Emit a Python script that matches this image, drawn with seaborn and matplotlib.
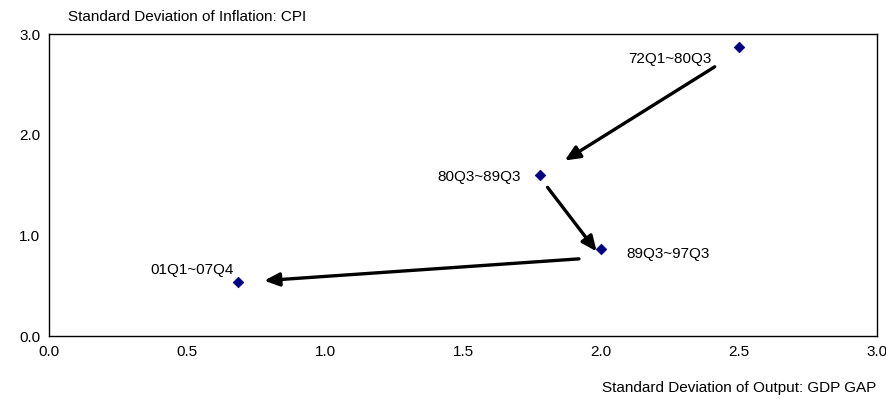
import matplotlib
matplotlib.use("Agg")
import matplotlib.pyplot as plt
import seaborn as sns
import pandas as pd

periods = ["72Q1~80Q3", "80Q3~89Q3", "89Q3~97Q3", "01Q1~07Q4"]
sd_output = [2.50, 1.78, 2.00, 0.685]
sd_inflation = [2.87, 1.60, 0.87, 0.54]
arrow_starts = [(2.42, 2.69), (1.80, 1.50), (1.93, 0.77)]
arrow_ends = [(1.86, 1.73), (1.99, 0.82), (0.77, 0.55)]
label_pos = [(2.40, 2.75, "right"), (1.71, 1.58, "right"), (2.09, 0.82, "left"), (0.67, 0.66, "right")]

sns.set_style("white")
plt.rcParams['font.family'] = ['Liberation Sans', 'DejaVu Sans']
plt.rcParams['text.color'] = 'black'
plt.rcParams['xtick.color'] = 'black'
plt.rcParams['ytick.color'] = 'black'

df = pd.DataFrame({"x": sd_output, "y": sd_inflation, "p": periods})
fig = plt.figure(figsize=(8.87, 4.11), dpi=100)
ax = fig.add_axes([0.055, 0.182, 0.934, 0.735])
sns.scatterplot(data=df, x="x", y="y", marker="D", color="#000080", s=30, edgecolor="#000080", ax=ax, zorder=3)
for (x, y, ha), t in zip(label_pos, periods):
    ax.text(x, y, t, ha=ha, va="center", fontsize=11, color="black")
for s, e in zip(arrow_starts, arrow_ends):
    ax.annotate("", xy=e, xytext=s, arrowprops=dict(arrowstyle="-|>,head_length=0.9,head_width=0.4", color="black", lw=2.4))
ax.set_xlim(0, 3)
ax.set_ylim(0, 3)
ax.set_xticks([0, 0.5, 1, 1.5, 2, 2.5, 3])
ax.set_xticklabels(["0.0", "0.5", "1.0", "1.5", "2.0", "2.5", "3.0"])
ax.set_yticks([0, 1, 2, 3])
ax.set_yticklabels(["0.0", "1.0", "2.0", "3.0"])
ax.tick_params(labelsize=11, length=0, pad=6)
ax.set_xlabel("")
ax.set_ylabel("")
for sp in ax.spines.values():
    sp.set_color("black")
    sp.set_linewidth(1)
fig.text(0.077, 0.975, "Standard Deviation of Inflation: CPI", fontsize=11, va="top")
fig.text(0.988, 0.04, "Standard Deviation of Output: GDP GAP", fontsize=11, ha="right", va="bottom")
fig.savefig("out.png", dpi=100)
